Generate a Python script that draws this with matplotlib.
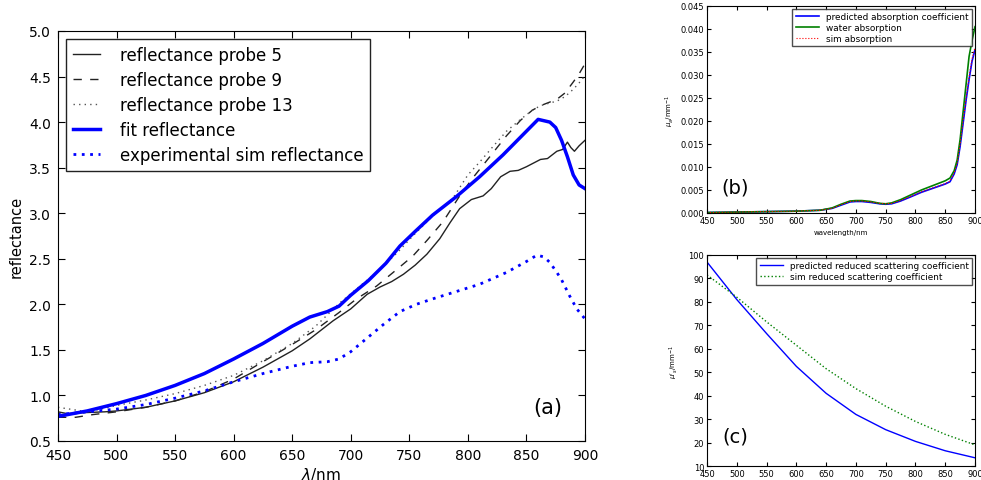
import numpy as np
import matplotlib
matplotlib.use("Agg")
import matplotlib.pyplot as plt

# (a) reflectance spectra
wl_p5 = [450, 458, 470, 490, 500, 525, 550, 575, 600, 625, 650, 665, 685, 700, 714, 725, 735, 745,
         755, 765, 776, 785, 793, 803, 813, 820, 828, 836, 843, 850, 856, 862, 868, 876, 881, 885,
         888, 891, 895, 900]
probe5 = [0.82, 0.80, 0.81, 0.82, 0.83, 0.87, 0.94, 1.03, 1.15, 1.31, 1.49, 1.62, 1.82, 1.95, 2.11,
          2.19, 2.25, 2.33, 2.43, 2.55, 2.72, 2.90, 3.05, 3.15, 3.19, 3.27, 3.40, 3.46, 3.47, 3.51,
          3.55, 3.59, 3.60, 3.68, 3.70, 3.78, 3.72, 3.68, 3.74, 3.80]

wl_p9 = [450, 465, 480, 500, 525, 550, 575, 600, 625, 650, 670, 690, 705, 722, 740, 753, 765, 779,
         793, 805, 820, 833, 845, 855, 862, 870, 876, 883, 890, 895, 900]
probe9 = [0.76, 0.76, 0.79, 0.82, 0.87, 0.94, 1.04, 1.18, 1.37, 1.56, 1.72, 1.91, 2.06, 2.20, 2.39,
          2.53, 2.70, 2.91, 3.19, 3.40, 3.64, 3.85, 4.02, 4.13, 4.18, 4.22, 4.25, 4.32, 4.44, 4.53, 4.64]

wl_p13 = [450, 465, 475, 490, 500, 525, 550, 575, 600, 625, 650, 670, 691, 705, 722, 740, 753, 770,
          787, 800, 810, 822, 833, 845, 855, 862, 870, 876, 883, 890, 895, 900]
probe13 = [0.87, 0.84, 0.82, 0.86, 0.89, 0.95, 1.02, 1.11, 1.22, 1.38, 1.57, 1.76, 2.02, 2.17, 2.35,
           2.57, 2.75, 2.97, 3.16, 3.42, 3.56, 3.74, 3.90, 4.03, 4.13, 4.18, 4.21, 4.23, 4.28, 4.36,
           4.43, 4.51]

wl_fit = [450, 475, 500, 525, 550, 575, 600, 625, 650, 665, 680, 690, 700, 715, 730, 742, 755, 770,
          790, 810, 830, 850, 860, 870, 875, 880, 885, 890, 895, 900]
fit_refl = [0.77, 0.83, 0.91, 1.00, 1.11, 1.24, 1.40, 1.57, 1.76, 1.86, 1.92, 1.98, 2.10, 2.26, 2.45,
            2.64, 2.80, 2.98, 3.18, 3.40, 3.64, 3.90, 4.03, 4.00, 3.94, 3.80, 3.62, 3.42, 3.31, 3.27]

wl_exp = [450, 475, 500, 525, 550, 575, 600, 625, 650, 665, 680, 690, 700, 714, 728, 742, 756, 770,
          790, 810, 833, 850, 859, 865, 870, 876, 880, 887, 893, 900]
exp_sim = [0.79, 0.82, 0.85, 0.90, 0.97, 1.05, 1.15, 1.24, 1.32, 1.36, 1.37, 1.40, 1.48, 1.63, 1.78,
           1.92, 2.00, 2.06, 2.14, 2.22, 2.35, 2.47, 2.54, 2.52, 2.46, 2.35, 2.27, 2.09, 1.95, 1.84]

# (b) absorption
wl_abs = [450, 500, 550, 600, 640, 660, 675, 690, 700, 710, 725, 740, 750, 760, 775, 790, 810, 830,
          850, 858, 865, 870, 875, 880, 885, 890, 895, 900]
pred_abs = [0.0001, 0.0002, 0.0003, 0.0004, 0.0006, 0.0010, 0.0017, 0.0024, 0.0025, 0.0025, 0.0023,
            0.0020, 0.0019, 0.0020, 0.0026, 0.0034, 0.0045, 0.0054, 0.0063, 0.0068, 0.0085, 0.0105,
            0.0145, 0.0195, 0.0245, 0.0290, 0.0330, 0.0355]
water_abs = [0.0001, 0.0002, 0.0003, 0.0004, 0.0006, 0.0011, 0.0019, 0.0026, 0.0027, 0.0027, 0.0025,
             0.0021, 0.0020, 0.0022, 0.0029, 0.0038, 0.0050, 0.0060, 0.0070, 0.0076, 0.0092, 0.0115,
             0.0160, 0.0220, 0.0280, 0.0340, 0.0375, 0.0405]
sim_abs = [0.0001, 0.0002, 0.0003, 0.0004, 0.0006, 0.0010, 0.0018, 0.0025, 0.0026, 0.0026, 0.0024,
           0.0021, 0.0020, 0.0021, 0.0027, 0.0035, 0.0046, 0.0055, 0.0064, 0.0069, 0.0087, 0.0108,
           0.0150, 0.0200, 0.0250, 0.0295, 0.0335, 0.0360]

# (c) reduced scattering
wl_sca = [450, 500, 550, 600, 650, 700, 750, 800, 850, 900]
pred_sca = [97, 81, 66.5, 52.5, 41, 32, 25.5, 20.5, 16.5, 13.5]
sim_sca = [91.5, 82, 71.5, 61.5, 51.5, 43, 35.5, 29, 23.5, 19]

fig = plt.figure(figsize=(9.81, 4.81), dpi=100)
fig.patch.set_facecolor('white')

ax = fig.add_axes([0.0591, 0.0811, 0.5372, 0.8524])
ax.plot(wl_p5, probe5, '-', color='#222222', lw=1.0, label='reflectance probe 5')
ax.plot(wl_p9, probe9, '--', color='#222222', lw=1.0, dashes=(6, 6), label='reflectance probe 9')
ax.plot(wl_p13, probe13, ':', color='#555555', lw=1.0, dashes=(1, 3), label='reflectance probe 13')
ax.plot(wl_fit, fit_refl, '-', color='#0000ff', lw=2.5, label='fit reflectance')
ax.plot(wl_exp, exp_sim, ':', color='#0000ff', lw=2.0, dashes=(1, 2), label='experimental sim reflectance')
ax.set_xlim(450, 900)
ax.set_ylim(0.5, 5.0)
ax.set_xticks(np.arange(450, 901, 50))
ax.set_yticks(np.arange(0.5, 5.01, 0.5))
ax.tick_params(direction='in', top=True, right=True, labelsize=10, length=5, pad=5)
ax.set_xlabel(r'$\lambda$/nm', fontsize=11, labelpad=2)
ax.set_ylabel('reflectance', fontsize=10.5)
leg = ax.legend(loc='upper left', fontsize=12, fancybox=False, framealpha=1, edgecolor='#222222',
                handlelength=1.6, handletextpad=1.2, labelspacing=0.42, borderpad=0.4)
leg.get_frame().set_linewidth(1.0)
ax.text(0.93, 0.083, '(a)', transform=ax.transAxes, fontsize=15, ha='center', va='center')

axb = fig.add_axes([0.7207, 0.5551, 0.2732, 0.4304])
axb.plot(wl_abs, pred_abs, '-', color='#0000ff', lw=1.2, label='predicted absorption coefficient')
axb.plot(wl_abs, water_abs, '-', color='#008000', lw=1.2, label='water absorption')
axb.plot(wl_abs, sim_abs, ':', color='#ff0000', lw=0.8, label='sim absorption')
axb.set_xlim(450, 900)
axb.set_ylim(0, 0.045)
axb.set_xticks(np.arange(450, 901, 50))
axb.set_yticks(np.arange(0, 0.0451, 0.005))
axb.yaxis.set_major_formatter(matplotlib.ticker.FormatStrFormatter('%.3f'))
axb.tick_params(direction='in', top=True, right=True, labelsize=6, length=3, pad=2)
axb.set_ylabel(r'$\mu_a$/mm$^{-1}$', fontsize=5, labelpad=3)
axb.set_xlabel('wavelength/nm', fontsize=5, labelpad=3)
axb.legend(loc='upper right', fontsize=6.4, fancybox=False, edgecolor='#222222',
           handlelength=2.6, labelspacing=0.2, borderpad=0.4, borderaxespad=0.3)
axb.text(0.104, 0.126, '(b)', transform=axb.transAxes, fontsize=14, ha='center', va='center')

axc = fig.add_axes([0.7207, 0.0291, 0.2732, 0.4387])
axc.plot(wl_sca, pred_sca, '-', color='#0000ff', lw=1.0, label='predicted reduced scattering coefficient')
axc.plot(wl_sca, sim_sca, ':', color='#008000', lw=1.0, label='sim reduced scattering coefficient')
axc.set_xlim(450, 900)
axc.set_ylim(10, 100)
axc.set_xticks(np.arange(450, 901, 50))
axc.set_yticks(np.arange(10, 101, 10))
axc.tick_params(direction='in', top=True, right=True, labelsize=6, length=3, pad=2)
axc.set_ylabel(r"$\mu'_s$/mm$^{-1}$", fontsize=5, labelpad=6)
axc.set_xlabel(r'$\lambda$/nm', fontsize=5, labelpad=2)
axc.legend(loc='upper right', fontsize=6.4, fancybox=False, edgecolor='#222222',
           handlelength=2.6, labelspacing=0.2, borderpad=0.4, borderaxespad=0.3)
axc.text(0.104, 0.142, '(c)', transform=axc.transAxes, fontsize=14, ha='center', va='center')

fig.savefig('out.png', dpi=100, facecolor='white')
